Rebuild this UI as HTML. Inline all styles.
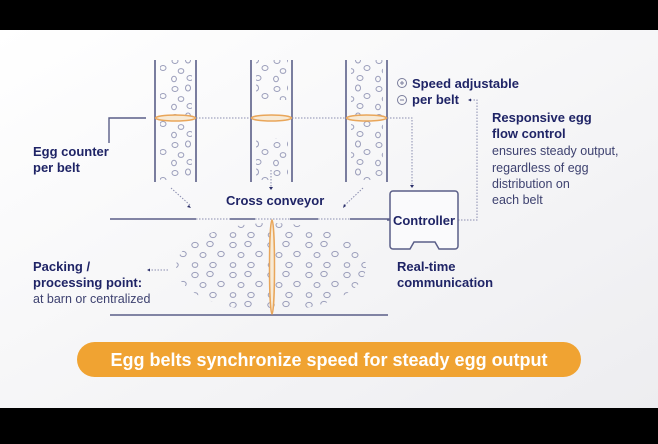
<!DOCTYPE html>
<html><head><meta charset="utf-8"><style>
html,body{margin:0;padding:0}
body{width:658px;height:439px;overflow:hidden;background:#000;font-family:"Liberation Sans",sans-serif}
</style></head><body>
<svg width="658" height="439" viewBox="0 0 658 439" xmlns="http://www.w3.org/2000/svg" font-family="'Liberation Sans',sans-serif">
<defs>
<linearGradient id="bg" x1="0" y1="0" x2="1" y2="1">
<stop offset="0" stop-color="#ffffff"/><stop offset="1" stop-color="#ededf0"/>
</linearGradient>
<pattern id="eggs" width="34" height="28" patternUnits="userSpaceOnUse">
<g fill="none" stroke="#9a9dba" stroke-width="1">
<ellipse cx="5" cy="5" rx="3" ry="2.5"/><ellipse cx="18" cy="4" rx="2.5" ry="3"/>
<ellipse cx="27" cy="12" rx="3" ry="2.5"/><ellipse cx="11" cy="15" rx="2.8" ry="2.4"/>
<ellipse cx="4" cy="23" rx="2.4" ry="2.8"/><ellipse cx="20" cy="22" rx="3" ry="2.5"/>
</g></pattern>
<pattern id="eggs2" width="38" height="30" patternUnits="userSpaceOnUse">
<g fill="none" stroke="#9a9dba" stroke-width="1">
<ellipse cx="5" cy="5" rx="3.2" ry="2.6"/><ellipse cx="20" cy="4" rx="3.2" ry="2.6"/>
<ellipse cx="31" cy="14" rx="3.2" ry="2.6"/><ellipse cx="13" cy="15" rx="3" ry="2.5"/>
<ellipse cx="5" cy="25" rx="2.8" ry="2.4"/><ellipse cx="23" cy="25" rx="3.2" ry="2.6"/>
</g></pattern>
</defs>
<rect x="0" y="30" width="658" height="378" fill="url(#bg)"/>
<g stroke="#5a5e88" stroke-width="1.6">
<line x1="155" y1="60" x2="155" y2="182"/><line x1="196" y1="60" x2="196" y2="182"/>
<line x1="251" y1="60" x2="251" y2="182"/><line x1="292" y1="60" x2="292" y2="182"/>
<line x1="346" y1="60" x2="346" y2="182"/><line x1="387" y1="60" x2="387" y2="182"/>
</g>
<rect x="160" y="60" width="32" height="120" fill="url(#eggs)"/>
<rect x="256" y="60" width="32" height="40" fill="url(#eggs)"/>
<rect x="256" y="138" width="32" height="42" fill="url(#eggs)"/>
<rect x="351" y="60" width="32" height="120" fill="url(#eggs)"/>
<g stroke="#8a8db0" stroke-width="1" stroke-dasharray="1.5,1.5" fill="none">
<line x1="196" y1="118" x2="251" y2="118"/><line x1="292" y1="118" x2="346" y2="118"/>
<polyline points="387,118 412,118 412,186"/>
<polyline points="458,220 477,220 477,100 470,100"/>
<line x1="171" y1="188" x2="191" y2="206"/>
<line x1="271" y1="170" x2="271" y2="188"/>
<line x1="363" y1="188" x2="344" y2="206"/>
<line x1="168" y1="270" x2="150" y2="270"/>
</g>
<g fill="#2b2f6a">
<path d="M191,208 l-4,-1 l2,-2z"/><path d="M271,190 l-2,-3 h4z"/><path d="M343,208 l1,-4 l2,2z"/>
<path d="M412,188 l-2,-3 h4z"/><path d="M147,270 l3,-1.5 v3z"/><path d="M468,100 l3,-1.5 v3z"/>
</g>
<polyline points="146,118 109,118 109,143" stroke="#5a5e88" stroke-width="1.4" fill="none"/>
<g fill="#f7ead6" stroke="#e9a65a" stroke-width="1.5">
<ellipse cx="175.5" cy="118" rx="20" ry="3"/>
<ellipse cx="271.5" cy="118" rx="20" ry="3"/>
<ellipse cx="366.5" cy="118" rx="20" ry="3"/>
</g>
<g stroke="#5a5e88" stroke-width="1.6">
<line x1="110" y1="219" x2="196" y2="219"/><line x1="230" y1="219" x2="255" y2="219"/>
<line x1="290" y1="219" x2="318" y2="219"/><line x1="350" y1="219" x2="390" y2="219"/>
<line x1="110" y1="315" x2="388" y2="315"/>
</g>
<g stroke="#8a8db0" stroke-width="1" stroke-dasharray="1.5,1.5">
<line x1="196" y1="219" x2="230" y2="219"/><line x1="255" y1="219" x2="290" y2="219"/><line x1="318" y1="219" x2="350" y2="219"/>
</g>
<ellipse cx="271" cy="267" rx="95" ry="44" fill="url(#eggs2)"/>
<ellipse cx="272" cy="267" rx="2.5" ry="47" fill="#f7ead6" stroke="#e9a65a" stroke-width="1.5"/>
<path d="M393,191 H455 a3,3 0 0 1 3,3 V246 a3,3 0 0 1 -3,3 H439 l-4,-7 H414 l-4,7 H393 a3,3 0 0 1 -3,-3 V194 a3,3 0 0 1 3,-3z" fill="#fafafc" stroke="#5a5e88" stroke-width="1.5"/>
<line x1="387" y1="220" x2="390" y2="220" stroke="#5a5e88" stroke-width="1.5"/>
<text x="424" y="225" text-anchor="middle" font-size="13" font-weight="bold" fill="#1f2466">Controller</text>
<g fill="none" stroke="#7a7d9c" stroke-width="1"><circle cx="402" cy="83" r="4.5"/><circle cx="402" cy="100" r="4.5"/></g>
<g stroke="#7a7d9c" stroke-width="1"><line x1="400" y1="83" x2="404" y2="83"/><line x1="402" y1="81" x2="402" y2="85"/><line x1="400" y1="100" x2="404" y2="100"/></g>
<g font-size="13" font-weight="bold" fill="#1f2466">
<text x="412" y="88">Speed adjustable</text><text x="412" y="104">per belt</text>
<text x="492" y="122">Responsive egg</text><text x="492" y="138">flow control</text>
<text x="33" y="156">Egg counter</text><text x="33" y="172">per belt</text>
<text x="226" y="205">Cross conveyor</text>
<text x="33" y="271">Packing /</text><text x="33" y="287">processing point:</text>
<text x="397" y="271">Real-time</text><text x="397" y="287">communication</text>
</g>
<g font-size="12.5" fill="#3e4270">
<text x="492" y="155">ensures steady output,</text><text x="492" y="172">regardless of egg</text>
<text x="492" y="188">distribution on</text><text x="492" y="204">each belt</text>
<text x="33" y="303">at barn or centralized</text>
</g>
<rect x="77" y="342" width="504" height="35" rx="17.5" fill="#f0a332"/>
<text x="329" y="366" text-anchor="middle" font-size="18" font-weight="bold" fill="#ffffff">Egg belts synchronize speed for steady egg output</text>
</svg>
</body></html>
